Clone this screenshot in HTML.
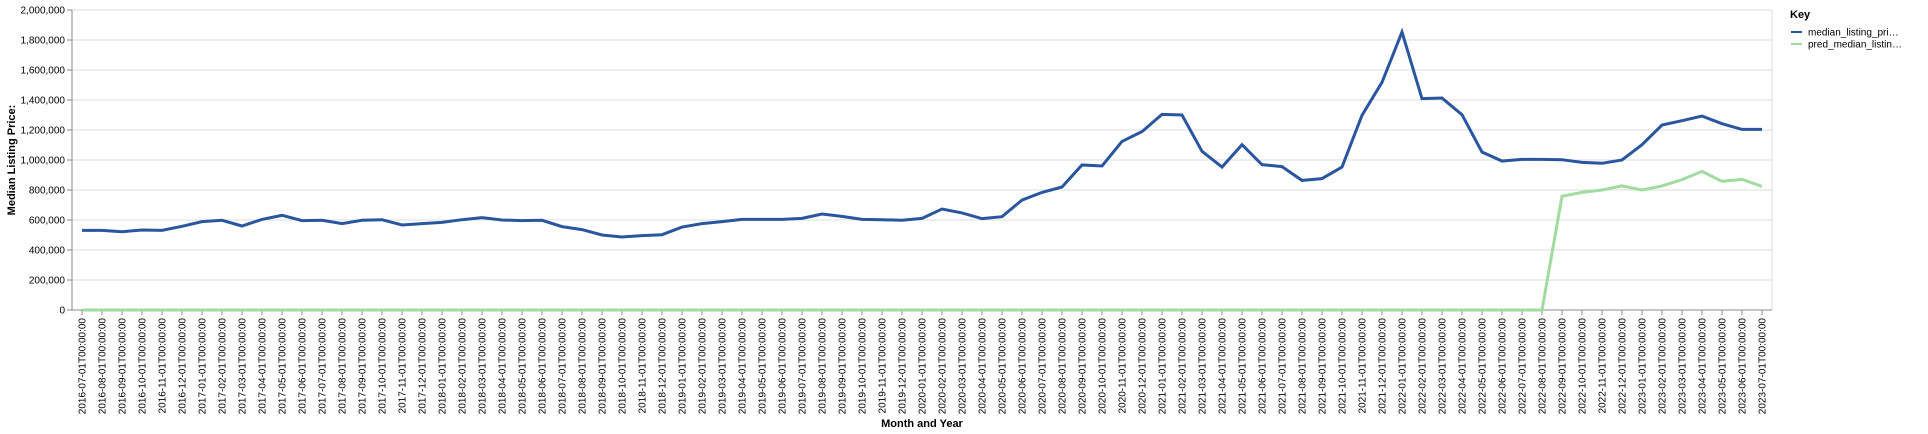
<!DOCTYPE html>
<html><head><meta charset="utf-8"><style>
html,body{margin:0;padding:0;background:#fff;width:1928px;height:434px;overflow:hidden}
svg{display:block;font-family:"Liberation Sans",sans-serif}
</style></head><body>
<svg id="chart" width="1928" height="434" viewBox="0 0 1928 434" xmlns="http://www.w3.org/2000/svg"></svg>
<script>
const months = [];
for (let y = 2016, m = 7; months.length < 85; ) { months.push(y + "-" + String(m).padStart(2, "0") + "-01T00:00:00"); m++; if (m > 12) { m = 1; y++; } }
const actualValues = [531,531,522,533,531,558,589,598,560,604,631,596,598,576,598,602,567,576,584,602,616,600,596,598,556,536,500,487,496,502,553,576,589,604,604,604,611,640,624,604,602,598,611,673,647,609,622,733,784,820,967,960,1124,1189,1304,1300,1058,953,1102,969,956,864,876,953,1298,1518,1853,1409,1413,1302,1053,993,1004,1004,1002,984,978,1000,1102,1233,1262,1293,1242,1204,1204];
const predValues = [0,0,0,0,0,0,0,0,0,0,0,0,0,0,0,0,0,0,0,0,0,0,0,0,0,0,0,0,0,0,0,0,0,0,0,0,0,0,0,0,0,0,0,0,0,0,0,0,0,0,0,0,0,0,0,0,0,0,0,0,0,0,0,0,0,0,0,0,0,0,0,0,0,0,758,784,800,827,800,827,869,924,858,871,824];
const yTicks = [0,200000,400000,600000,800000,1000000,1200000,1400000,1600000,1800000,2000000];

const NS = "http://www.w3.org/2000/svg";
const svg = document.getElementById("chart");
const L = 72, R = 1772, T = 10, B = 310;
const step = (R - L) / months.length;
const xS = i => L + step * (i + 0.5);
const yS = v => B - (v / 2000000) * (B - T);
function el(tag, attrs, parent) { const e = document.createElementNS(NS, tag); for (const k in attrs) e.setAttribute(k, attrs[k]); (parent || svg).appendChild(e); return e; }

const grid = el("g", {});


yTicks.forEach(v => {
  const g = el("line", {x1: L, x2: R, y1: yS(v), y2: yS(v), stroke: "#ddd", "stroke-width": 1}, grid);
  
  
});
const rb = el("line", {x1: R, x2: R, y1: T, y2: B, stroke: "#ddd"});



const ya = el("g", {});


el("line", {x1: L, x2: L, y1: T, y2: B, stroke: "#888"}, ya);
yTicks.forEach(v => {
  el("line", {x1: L - 5, x2: L, y1: yS(v), y2: yS(v), stroke: "#888"}, ya);
  const t = el("text", {x: L - 7, y: yS(v) + 3.5, "text-anchor": "end", "font-size": 10, fill: "#000"}, ya);
  t.textContent = v.toLocaleString("en-US");
  
  
});
const yt = el("text", {x: 0, y: 0, transform: "translate(15,160) rotate(-90)", "text-anchor": "middle", "font-size": 11, "font-weight": "bold"});
yt.textContent = "Median Listing Price:";



const xa = el("g", {});


el("line", {x1: L, x2: R, y1: B, y2: B, stroke: "#888"}, xa);
months.forEach((m, i) => {
  el("line", {x1: xS(i), x2: xS(i), y1: B, y2: B + 5, stroke: "#888"}, xa);
  const t = el("text", {transform: "translate(" + (xS(i) + 3.5) + "," + (B + 8) + ") rotate(-90)", "text-anchor": "end", "font-size": 10}, xa);
  t.textContent = m;
  
  
});
const xt = el("text", {x: (L + R) / 2, y: 427, "text-anchor": "middle", "font-size": 11, "font-weight": "bold"});
xt.textContent = "Month and Year";



function linePath(vals) { return vals.map((v, i) => (i ? "L" : "M") + xS(i).toFixed(2) + "," + yS(v * 1000).toFixed(2)).join(""); }
const pl = el("path", {d: linePath(predValues), fill: "none", stroke: "#a1dba0", "stroke-width": 3, "stroke-linejoin": "miter"});


const al = el("path", {d: linePath(actualValues), fill: "none", stroke: "#2a559f", "stroke-width": 3, "stroke-linejoin": "miter"});



const lg = el("g", {});


const kt = el("text", {x: 1790, y: 18, "font-size": 11, "font-weight": "bold"}, lg);
kt.textContent = "Key";


[["median_listing_pri…", "#2a559f", 32], ["pred_median_listin…", "#a1dba0", 44]].forEach(([lab, c, y]) => {
  const g = el("g", {}, lg);
  
  
  el("line", {x1: 1791, x2: 1802, y1: y, y2: y, stroke: c, "stroke-width": 2}, g);
  const t = el("text", {x: 1808, y: y + 3.5, "font-size": 10}, g);
  t.textContent = lab;
});
</script>
</body></html>
